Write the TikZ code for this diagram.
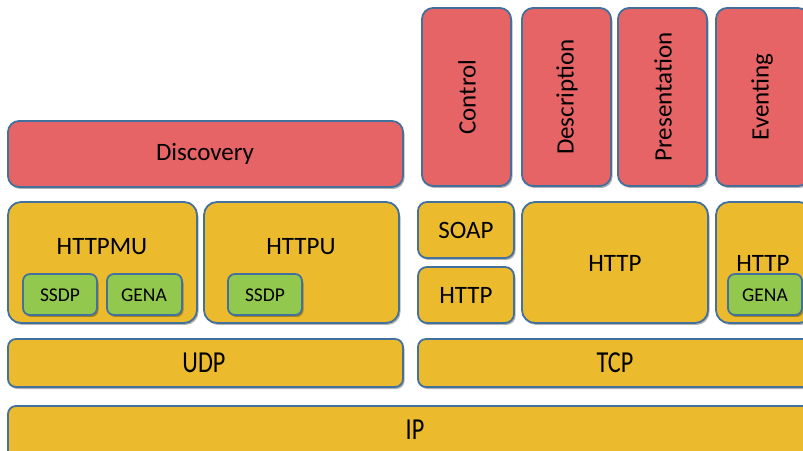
\documentclass[tikz,border=0pt]{standalone}
\usepackage{fontspec}
\setmainfont{Carlito}
\usetikzlibrary{fit,shadows}
\definecolor{redfill}{HTML}{E66465}
\definecolor{yelfill}{HTML}{EBBB2D}
\definecolor{grnfill}{HTML}{92C84E}
\definecolor{edgecol}{HTML}{41719C}
\tikzset{
  blk/.style={draw=edgecol, line width=1.8bp, inner sep=0pt,
    drop shadow={shadow xshift=1.5bp, shadow yshift=-2bp, opacity=0.3, fill=black}},
  redblk/.style={blk, fill=redfill, rounded corners=11bp},
  yelblk/.style={blk, fill=yelfill, rounded corners=13bp},
  barblk/.style={blk, fill=yelfill, rounded corners=8bp},
  grnblk/.style={blk, fill=grnfill, rounded corners=7bp},
  lbl/.style={inner sep=0pt, font=\fontsize{25bp}{30bp}\selectfont},
  small/.style={inner sep=0pt, font=\fontsize{19.5bp}{23bp}\selectfont}
}
\newcommand{\stretchtxt}[1]{\scalebox{0.97}[1.22]{#1}}
\begin{document}
\begin{tikzpicture}[x=1bp, y=-1bp]
\useasboundingbox (0,0) rectangle (803,451);
\clip (0,0) rectangle (803,451);
\fill[white] (0,0) rectangle (803,451);

% upper application protocols
\node[redblk, fit={(8,121) (403,187)}] (disc) {};
\node[lbl] (disct) at (205,154) {Discovery};
\node[redblk, fit={(422,8) (511,186)}] (ctrl) {};
\node[lbl, rotate=90] (ctrlt) at (467,97) {Control};
\node[redblk, fit={(522,8) (611,186)}] (desc) {};
\node[lbl, rotate=90] (desct) at (567,97) {Description};
\node[redblk, fit={(618,8) (707,186)}] (pres) {};
\node[lbl, rotate=90] (prest) at (663,97) {Presentation};
\node[redblk, fit={(716,8) (809,186)}] (evnt) {};
\node[lbl, rotate=90] (evntt) at (762,97) {Eventing};

% HTTP variants on UDP
\node[yelblk, fit={(8,202) (197,323)}] (httpmu) {};
\node[lbl] (httpmut) at (102,247) {HTTPMU};
\node[grnblk, fit={(23,274) (97,315)}] (ssdpa) {};
\node[small] (ssdpat) at (60,295) {SSDP};
\node[grnblk, fit={(107,274) (182,315)}] (genaa) {};
\node[small] (genaat) at (144,295) {GENA};
\node[yelblk, fit={(204,202) (399,323)}] (httpu) {};
\node[lbl] (httput) at (301,247) {HTTPU};
\node[grnblk, fit={(228,274) (302,315)}] (ssdpb) {};
\node[small] (ssdpbt) at (265,295) {SSDP};

% HTTP variants on TCP
\node[barblk, rounded corners=9bp, fit={(418,202) (514,258)}] (soap) {};
\node[lbl] (soapt) at (466,230) {SOAP};
\node[barblk, rounded corners=9bp, fit={(418,267) (514,323)}] (httpa) {};
\node[lbl] (httpat) at (466,295) {HTTP};
\node[yelblk, fit={(522,202) (708,323)}] (httpb) {};
\node[lbl] (httpbt) at (615,263) {HTTP};
\node[yelblk, fit={(716,202) (812,323)}] (httpc) {};
\node[lbl] (httpct) at (763,263) {HTTP};
\node[grnblk, fit={(728,274) (802,315)}] (genab) {};
\node[small] (genabt) at (765,295) {GENA};

% transport and network layers
\node[barblk, fit={(8,339) (403,387)}] (udp) {};
\node[lbl] (udpt) at (204,363) {\stretchtxt{UDP}};
\node[barblk, fit={(418,339) (812,387)}] (tcp) {};
\node[lbl] (tcpt) at (615,363) {\stretchtxt{TCP}};
\node[barblk, fit={(8,406) (822,470)}] (ip) {};
\node[lbl] (ipt) at (415,430) {\stretchtxt{IP}};
\end{tikzpicture}
\end{document}
